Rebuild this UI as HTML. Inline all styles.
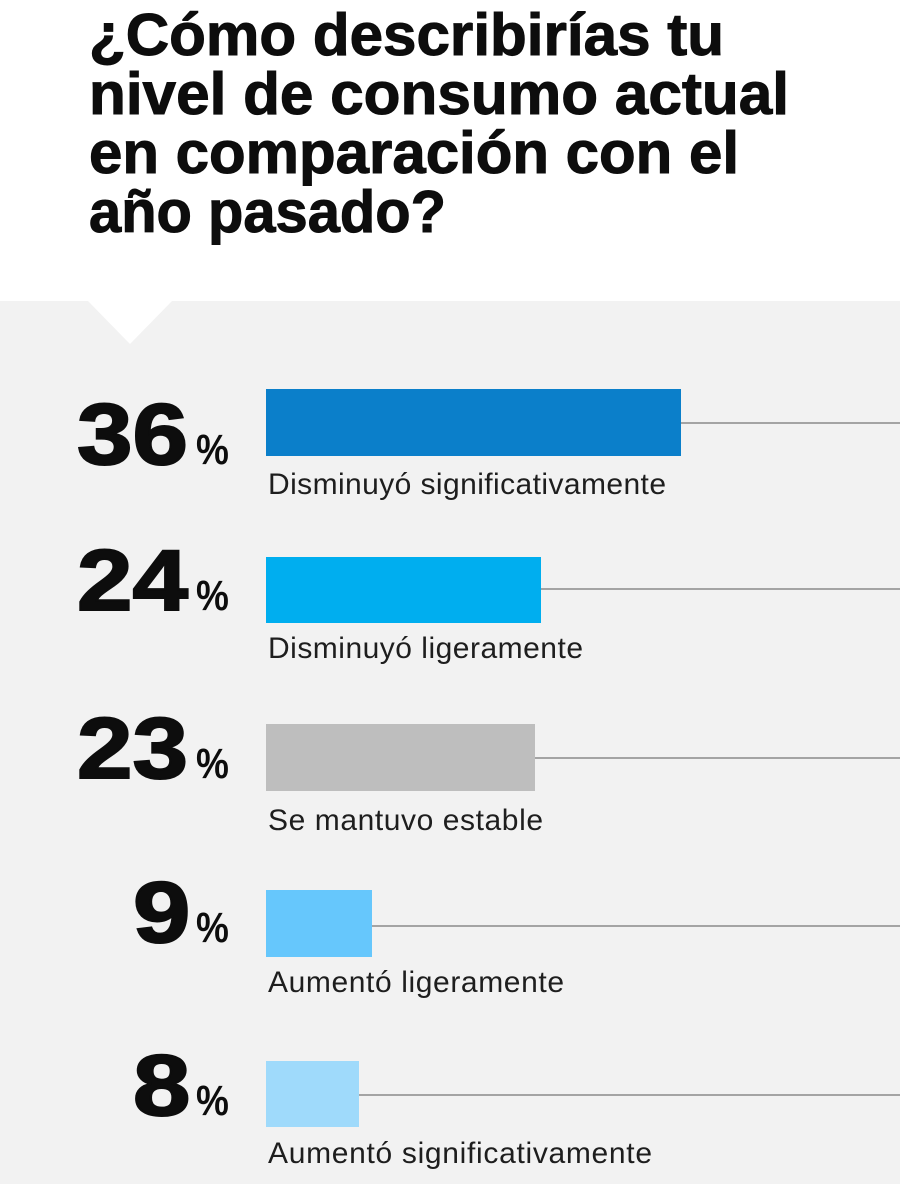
<!DOCTYPE html>
<html>
<head>
<meta charset="utf-8">
<style>
  html, body { margin: 0; padding: 0; background: #ffffff; }
  body { width: 900px; height: 1184px; overflow: hidden; }
  svg { display: block; }
  .t { font-family: "Liberation Sans", Arial, sans-serif; }
  .title { font-weight: 700; font-size: 59px; fill: #0d0d0d; stroke: #0d0d0d; stroke-width: 1px; }
  .num { font-weight: 700; font-size: 86px; fill: #0d0d0d; stroke: #0d0d0d; stroke-width: 2px; }
  .pct { font-weight: 700; font-size: 43px; fill: #0d0d0d; }
  .lab { font-weight: 400; font-size: 30px; fill: #1e1e1e; }
</style>
</head>
<body>
<svg width="900" height="1184" viewBox="0 0 900 1184" xmlns="http://www.w3.org/2000/svg">
  <rect x="0" y="0" width="900" height="1184" fill="#ffffff"/>
  <rect x="0" y="301" width="900" height="883" fill="#f2f2f2"/>
  <polygon points="88,301 172,301 130,344" fill="#ffffff"/>

  <g class="t title">
    <text x="89" y="55" textLength="635" lengthAdjust="spacingAndGlyphs">¿Cómo describirías tu</text>
    <text x="89" y="114" textLength="700" lengthAdjust="spacingAndGlyphs">nivel de consumo actual</text>
    <text x="89" y="173" textLength="650" lengthAdjust="spacingAndGlyphs">en comparación con el</text>
    <text x="89" y="232" textLength="357" lengthAdjust="spacingAndGlyphs">año pasado?</text>
  </g>

  <!-- guide lines -->
  <g stroke="#8a8a8a" stroke-width="1.5">
    <line x1="681" y1="423" x2="900" y2="423"/>
    <line x1="541" y1="589" x2="900" y2="589"/>
    <line x1="535" y1="758" x2="900" y2="758"/>
    <line x1="372" y1="926" x2="900" y2="926"/>
    <line x1="359" y1="1095" x2="900" y2="1095"/>
  </g>

  <!-- bars -->
  <rect x="266" y="389" width="415" height="67" fill="#0b7fca"/>
  <rect x="266" y="557" width="275" height="66" fill="#00aeef"/>
  <rect x="266" y="724" width="269" height="67" fill="#bebebe"/>
  <rect x="266" y="890" width="106" height="67" fill="#66c7fc"/>
  <rect x="266" y="1061" width="93" height="66" fill="#9fdafb"/>

  <!-- big numbers -->
  <g class="t num">
    <text x="0" y="0" transform="translate(77,464) scale(1.16,1)">36</text>
    <text x="0" y="0" transform="translate(77,610) scale(1.16,1)">24</text>
    <text x="0" y="0" transform="translate(77,778) scale(1.16,1)">23</text>
    <text x="0" y="0" transform="translate(133,942) scale(1.2,1)">9</text>
    <text x="0" y="0" transform="translate(133,1115) scale(1.2,1)">8</text>
  </g>
  <g class="t pct">
    <text x="0" y="0" transform="translate(196,464) scale(0.86,1)">%</text>
    <text x="0" y="0" transform="translate(196,610) scale(0.86,1)">%</text>
    <text x="0" y="0" transform="translate(196,778) scale(0.86,1)">%</text>
    <text x="0" y="0" transform="translate(196,942) scale(0.86,1)">%</text>
    <text x="0" y="0" transform="translate(196,1115) scale(0.86,1)">%</text>
  </g>

  <!-- labels -->
  <g class="t lab">
    <text x="268" y="494" textLength="398">Disminuyó significativamente</text>
    <text x="268" y="658" textLength="315">Disminuyó ligeramente</text>
    <text x="268" y="830" textLength="275">Se mantuvo estable</text>
    <text x="268" y="992" textLength="296">Aumentó ligeramente</text>
    <text x="268" y="1163" textLength="384">Aumentó significativamente</text>
  </g>
</svg>
</body>
</html>
